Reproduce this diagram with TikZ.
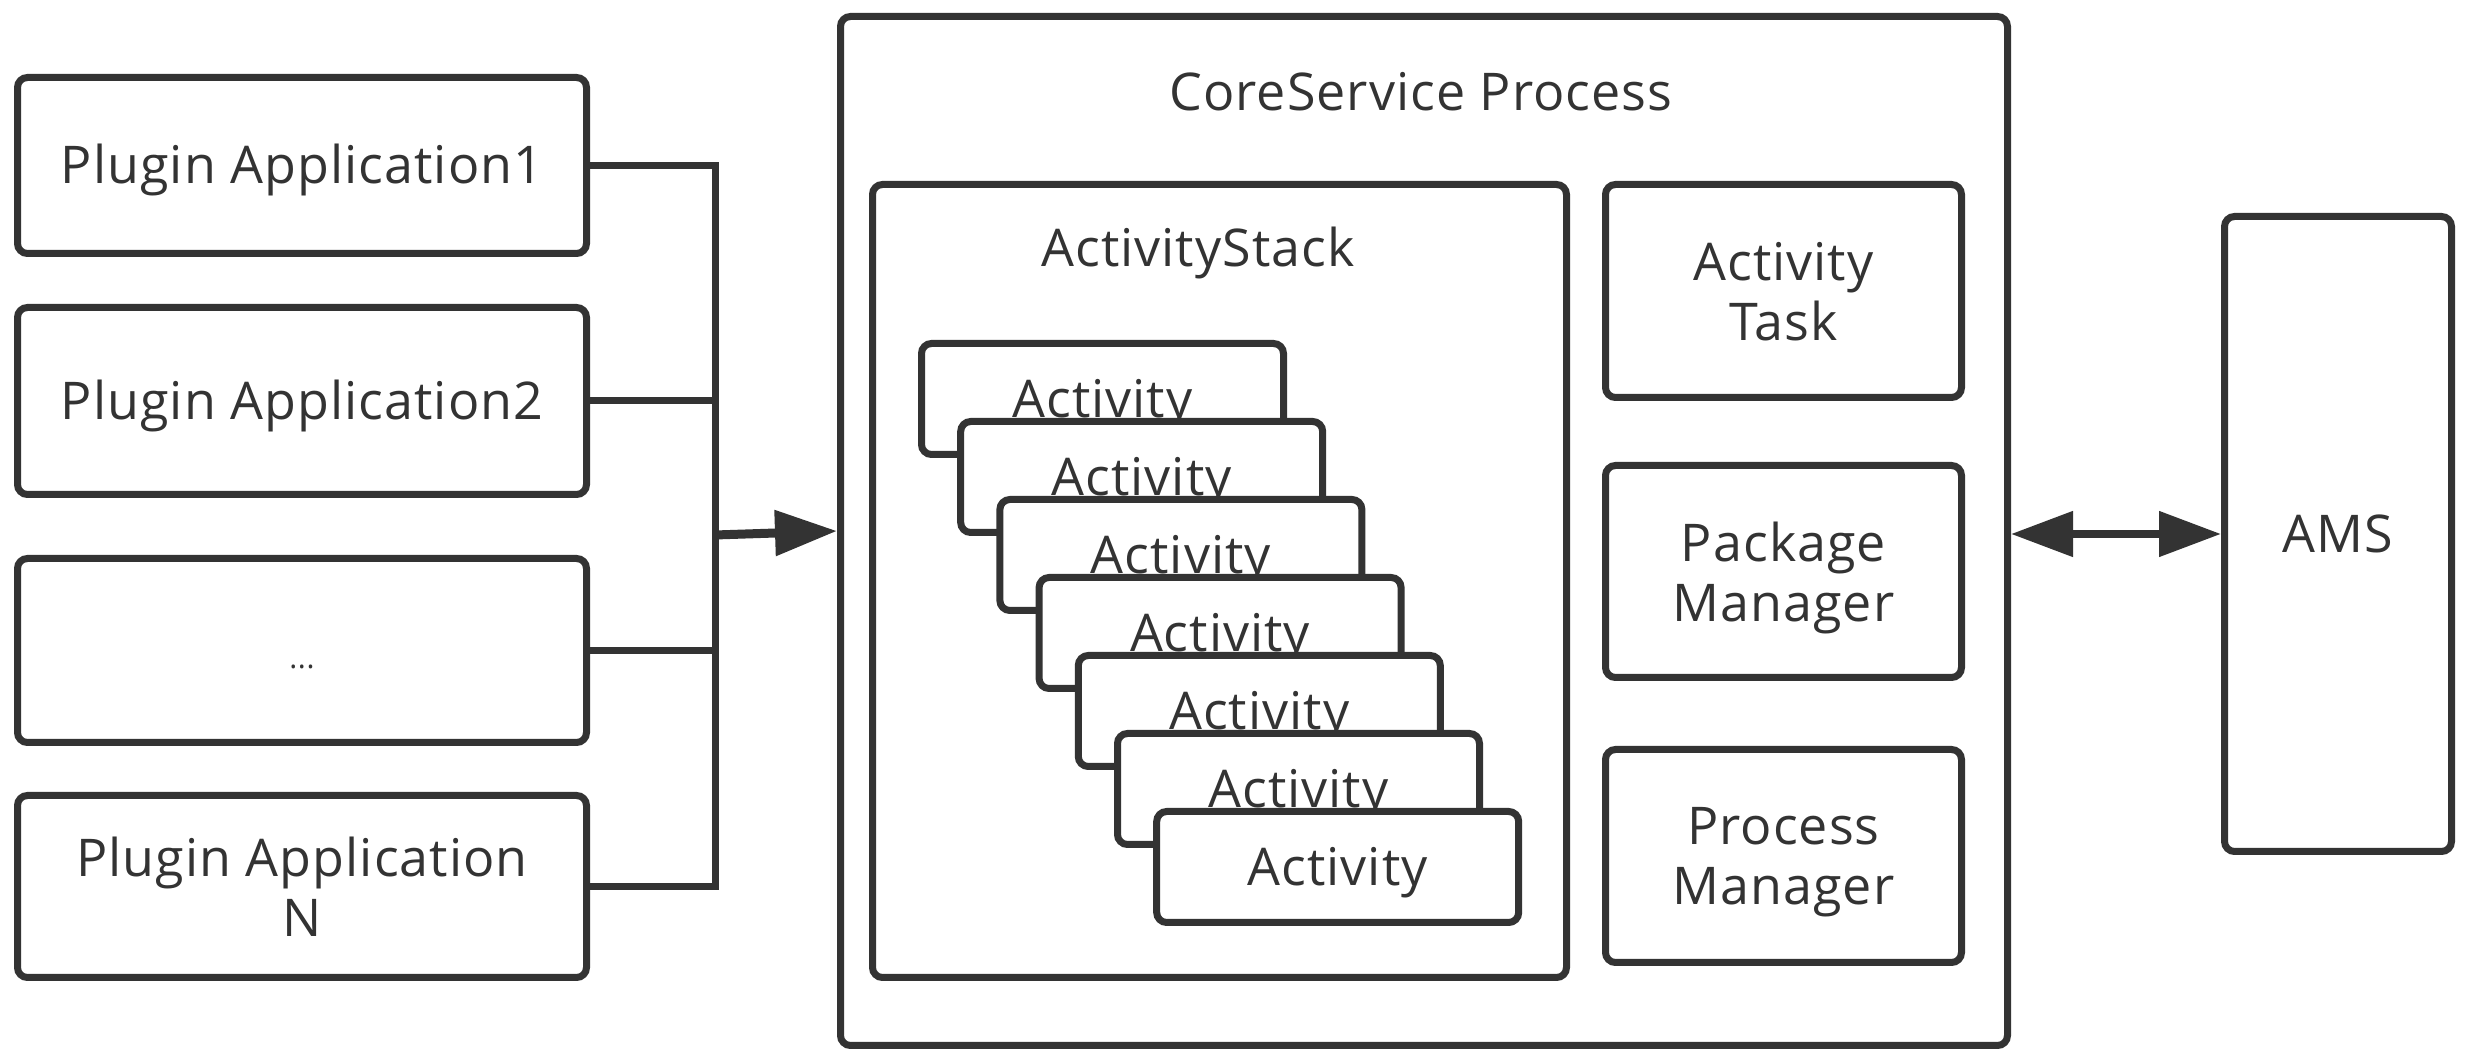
\documentclass[tikz,border=0pt]{standalone}
\usepackage{fontspec}
\setmainfont[LetterSpace=2]{Open Sans}
\usetikzlibrary{arrows.meta}
\definecolor{ink}{HTML}{333333}
\tikzset{
  box/.style={draw=ink, line width=3.5pt, rounded corners=5pt, fill=white,
    text=ink, align=center, inner sep=0pt,
    font=\fontsize{26}{30}\selectfont},
  oneline/.style={text height=18.5pt, text depth=0pt},
  twoline/.style={text depth=0pt},
  link/.style={draw=ink, line width=3.5pt},
  tri/.tip={Triangle[length=31pt, width=22pt]}
}
\begin{document}
\begin{tikzpicture}[x=0.5pt, y=-0.5pt]
    \useasboundingbox (0, 0) rectangle (2465, 1052);
    \node[box, oneline, minimum width=284.5pt, minimum height=88pt] (app1) at (302, 165.5) {Plugin Application1};
    \node[box, oneline, minimum width=284.5pt, minimum height=93.5pt] (app2) at (302, 401) {Plugin Application2};
    \node[box, oneline, minimum width=284.5pt, minimum height=92pt] (app3) at (302, 650.5) {\fontsize{15}{18}\selectfont ...};
    \node[box, twoline, minimum width=284.5pt, minimum height=91pt] (app4) at (302, 886.5) {Plugin Application\\N};
    \node[box, minimum width=583.5pt, minimum height=514.5pt] (core) at (1424, 531) {};
    \node[text=ink, font=\fontsize{26}{30}\selectfont, anchor=base] (coretitle) at (1421, 111) {CoreService Process};
    \node[box, minimum width=347pt, minimum height=396.5pt] (stack) at (1219.5, 581) {};
    \node[text=ink, font=\fontsize{26}{30}\selectfont, anchor=base] (stacktitle) at (1198, 267) {ActivityStack};
    \foreach \i in {0,...,6}
        \node[box, oneline, minimum width=181pt, minimum height=55.5pt] (act\i) at (1102.5+39.2*\i, 399+78*\i) {Activity};
    \node[box, twoline, minimum width=178pt, minimum height=106.5pt] (task) at (1783.5, 291) {Activity\\Task};
    \node[box, twoline, minimum width=178pt, minimum height=106pt] (pkg) at (1783.5, 571.5) {Package\\Manager};
    \node[box, twoline, minimum width=178pt, minimum height=106.5pt] (proc) at (1783.5, 856) {Process\\Manager};
    \node[box, oneline, minimum width=113.5pt, minimum height=317.5pt] (ams) at (2338, 534) {AMS};
    \coordinate (bus) at (715, 535);
    \draw[link] (app1.east) -| (bus) |- (app4.east);
    \draw[link] (app2.east) -- (app2.east -| bus);
    \draw[link] (app3.east) -- (app3.east -| bus);
    \draw[link, -tri, line width=4.5pt] (bus) -- (core.west);
    \draw[link, tri-tri, line width=4pt] (core.east |- ams.west) -- (ams.west);
\end{tikzpicture}
\end{document}
